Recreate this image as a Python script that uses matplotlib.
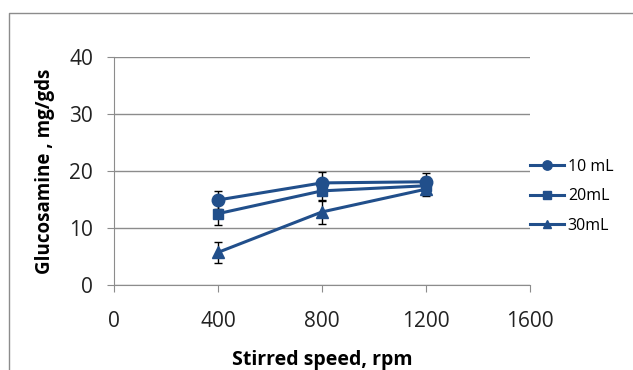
import matplotlib
matplotlib.use('Agg')
import matplotlib.pyplot as plt
from matplotlib.lines import Line2D

plt.rcParams['font.family'] = ['Open Sans', 'DejaVu Sans']

# data
speed = [400, 800, 1200]
g10 = [14.9, 17.9, 18.1]
g20 = [12.5, 16.5, 17.4]
g30 = [5.7, 12.8, 16.8]
err10 = [1.6, 1.9, 1.5]
err20 = [2.0, 1.7, 1.5]
err30 = [1.8, 2.1, 1.2]
labels = ['10 mL', '20mL', '30mL']

blue = '#214f8b'
grey = '#8c8c8c'

fig = plt.figure(figsize=(6.33, 3.70), dpi=100)
ax = fig.add_axes([0.180, 0.23, 0.657, 0.616])

markers = ['o', 's', '^']
msizes = [9, 7.5, 8]
for y, e, m, ms, lab in zip([g10, g20, g30], [err10, err20, err30], markers, msizes, labels):
    ax.errorbar(speed, y, yerr=e, fmt='none', ecolor='black', elinewidth=1,
                capsize=3, capthick=1, zorder=2)
    ax.plot(speed, y, color=blue, lw=2.2, marker=m, ms=ms, label=lab, zorder=3)

ax.set_xlim(0, 1600)
ax.set_ylim(0, 40)
ax.set_xticks([0, 400, 800, 1200, 1600])
ax.set_yticks([0, 10, 20, 30, 40])
ax.grid(axis='y', color=grey, lw=1)
ax.set_axisbelow(True)
for s in ['top', 'right']:
    ax.spines[s].set_visible(False)
for s in ['left', 'bottom']:
    ax.spines[s].set_color(grey)
ax.tick_params(axis='both', colors=grey, labelcolor='#222222', labelsize=15, length=5)
ax.tick_params(axis='x', pad=14)
ax.tick_params(axis='y', pad=10)

ax.set_xlabel('Stirred speed, rpm', fontsize=14, fontweight='bold', labelpad=13)
ax.set_ylabel('Glucosamine , mg/gds', fontsize=13.5, fontweight='bold', labelpad=10)

leg_handles = [Line2D([0], [0], color=blue, lw=2.2, marker=m, ms=ms * 0.75)
               for m, ms in zip(markers, msizes)]
fig.legend(leg_handles, labels, loc='upper left', bbox_to_anchor=(0.815, 0.61),
           frameon=False, fontsize=11.5, handlelength=2.1, handletextpad=0.25,
           labelspacing=0.85)

# outer frame
fig.add_artist(Line2D([9 / 633, 9 / 633, 1], [0, 1 - 13 / 370, 1 - 13 / 370],
                      transform=fig.transFigure, color=grey, lw=1))

fig.savefig('out.png', dpi=100)
